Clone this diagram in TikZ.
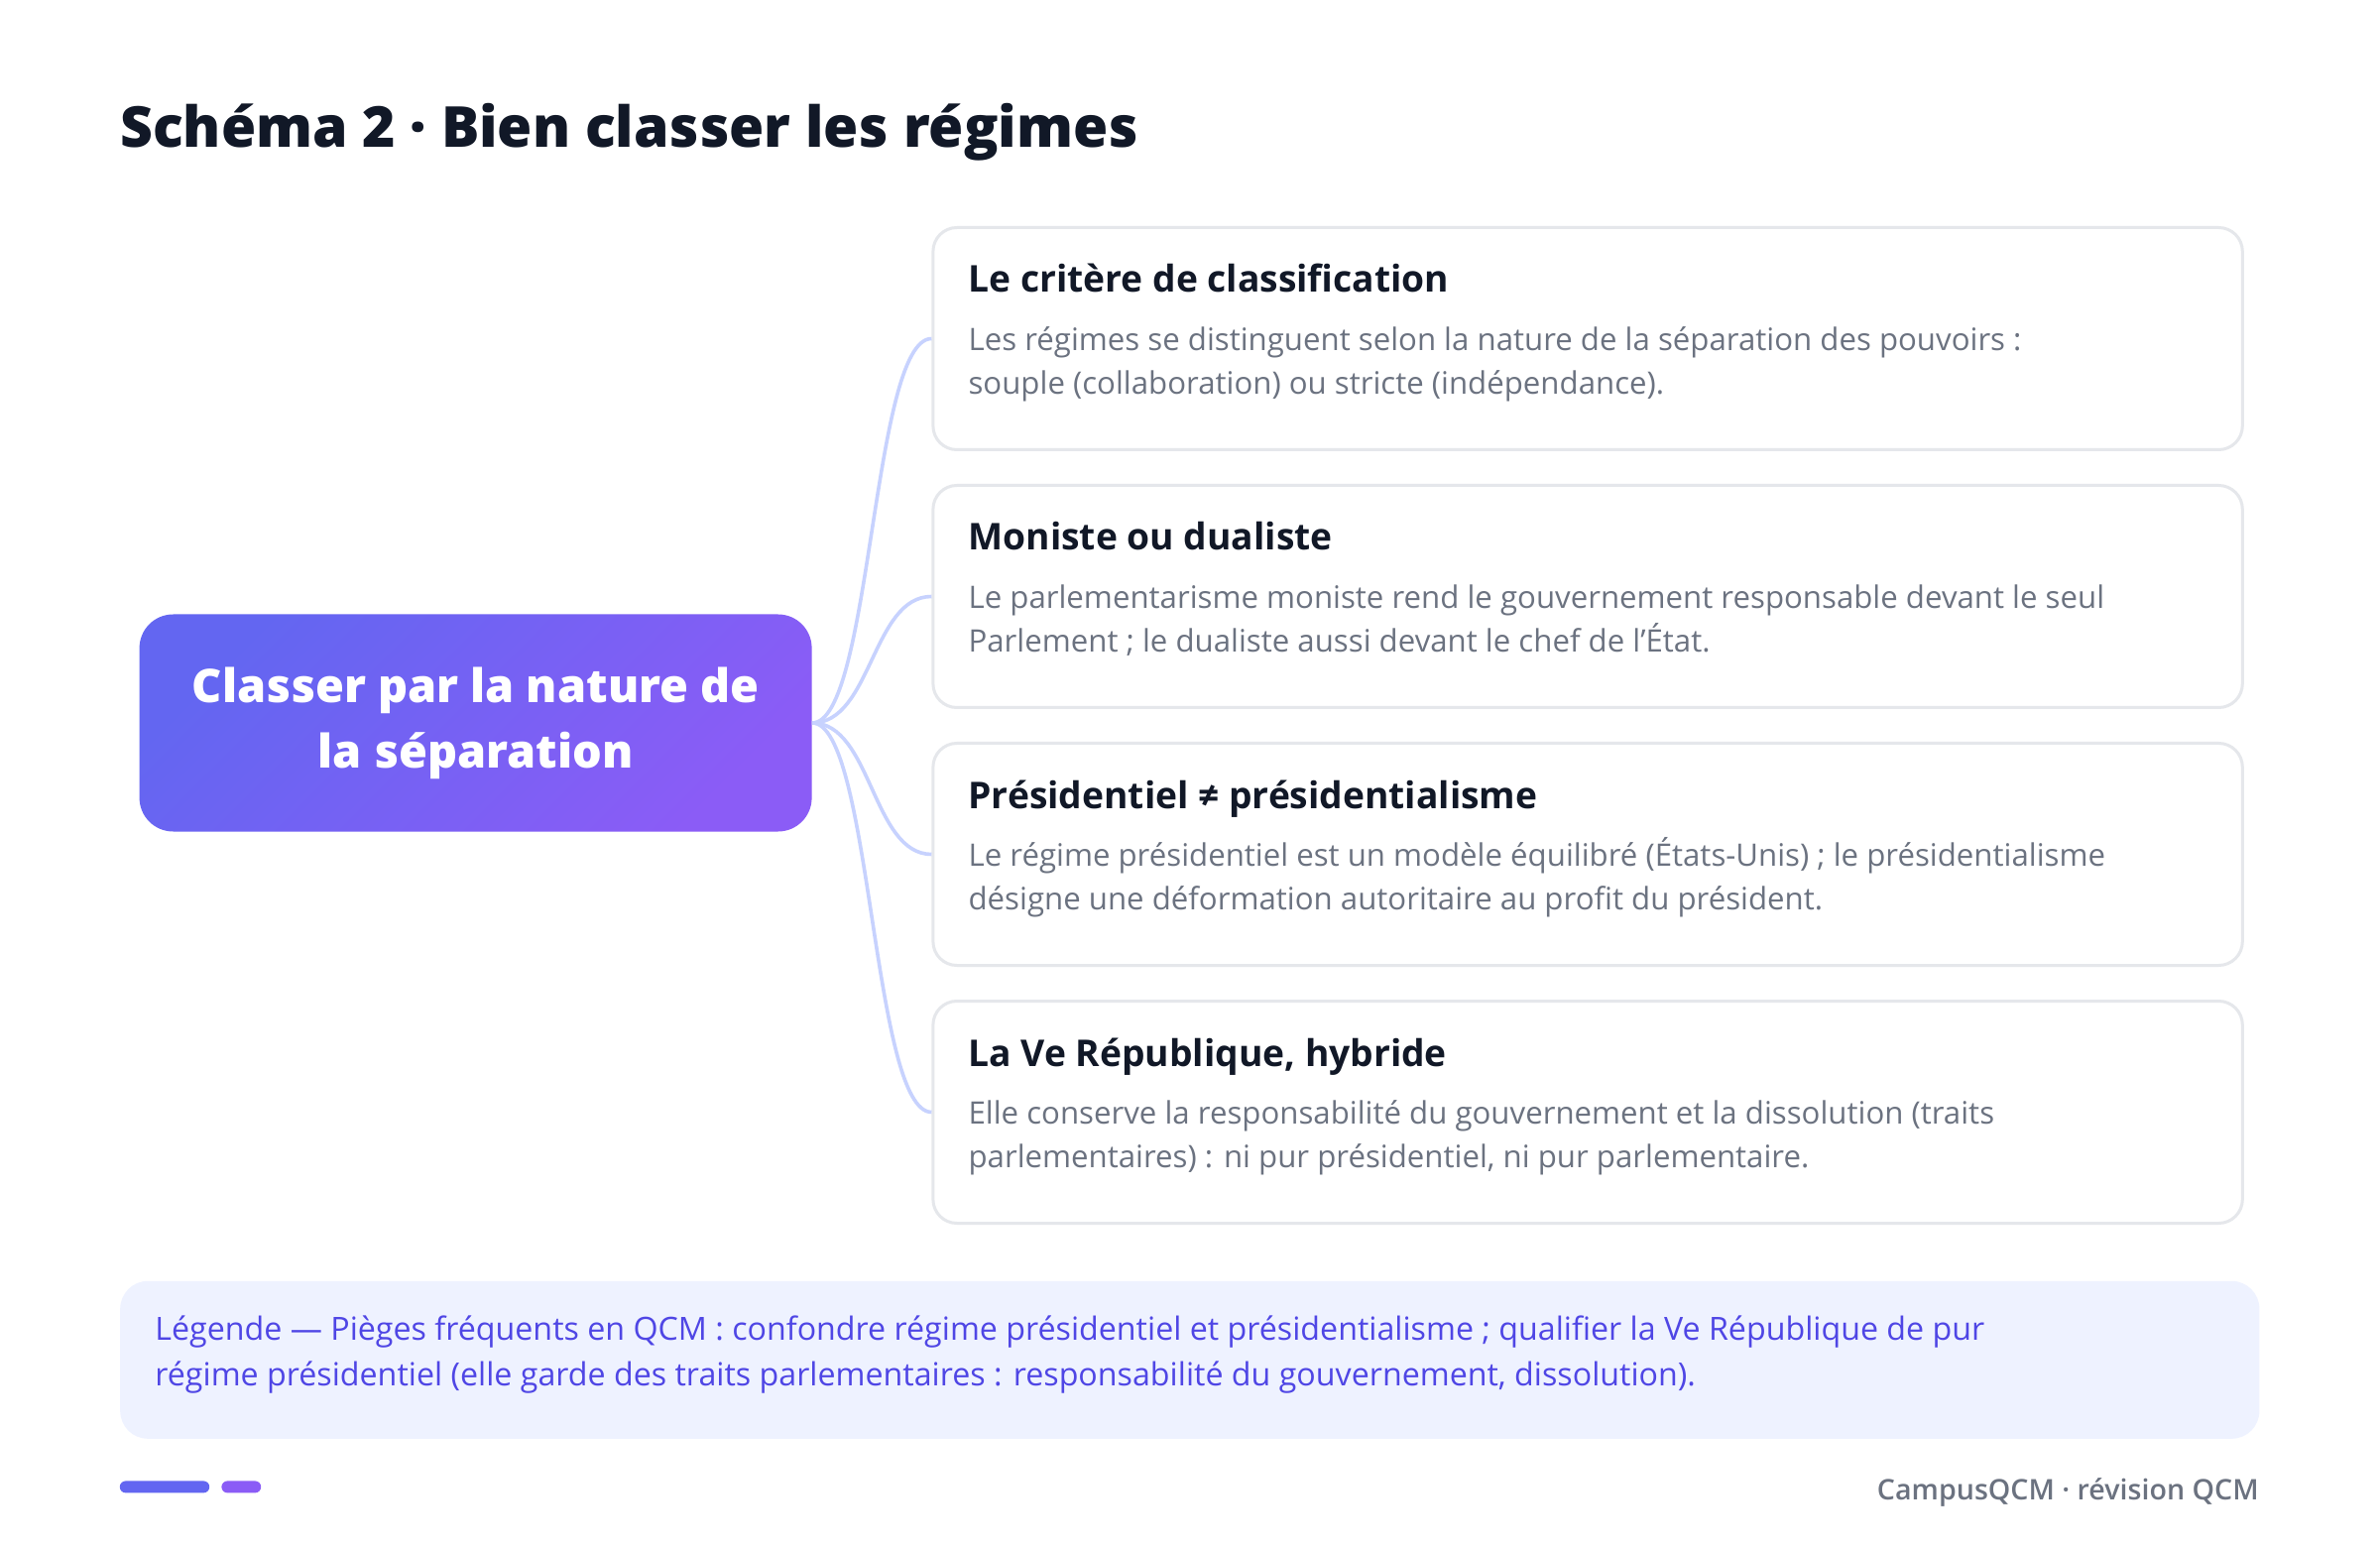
\documentclass[tikz,border=0pt]{standalone}
\usepackage{fontspec}
\setmainfont{Open Sans}
\IfFontExistsTF{Open Sans ExtraBold}{\newfontface\heavyf{Open Sans ExtraBold}}{%
  \IfFontExistsTF{Open Sans Extrabold}{\newfontface\heavyf{Open Sans Extrabold}}{\newcommand\heavyf{\bfseries}}}
\IfFontExistsTF{Open Sans SemiBold}{\newfontface\semif{Open Sans SemiBold}}{%
  \IfFontExistsTF{Open Sans Semibold}{\newfontface\semif{Open Sans Semibold}}{\newcommand\semif{\bfseries}}}
\usetikzlibrary{calc}
\definecolor{ink}{HTML}{111827}
\definecolor{muted}{HTML}{6B7280}
\definecolor{cardline}{HTML}{E5E7EB}
\definecolor{connc}{HTML}{C7D2FE}
\definecolor{indA}{HTML}{6366F1}
\definecolor{vioB}{HTML}{8B5CF6}
\definecolor{legfill}{HTML}{EEF2FF}
\definecolor{legtext}{HTML}{4F46E5}
\begin{document}
\begin{tikzpicture}[x=1pt,y=-1pt,
  cnode/.style={rounded corners=17pt, top color=indA, bottom color=vioB, shading angle=45,
    minimum width=339pt, minimum height=109.5pt, inner sep=0pt, text=white, align=center,
    font=\fontsize{23.4}{33}\selectfont\heavyf},
  card/.style={draw=cardline, line width=1.5pt, rounded corners=12pt, fill=white,
    minimum width=660.2pt, minimum height=112pt, anchor=north west, inner sep=0pt},
  ctitle/.style={anchor=base west, inner sep=0pt, text=ink, font=\fontsize{18.6}{22}\selectfont\bfseries},
  cbody/.style={anchor=base west, inner sep=0pt, text=muted, font=\fontsize{15.6}{22}\selectfont},
  conn/.style={draw=connc, line width=1.8pt},
  legbox/.style={fill=legfill, rounded corners=14pt, minimum width=1078.6pt, minimum height=79.5pt,
    anchor=north west, inner sep=0pt},
  legline/.style={anchor=base west, inner sep=0pt, text=legtext, font=\fontsize{16.1}{22}\selectfont},
]
\useasboundingbox[fill=white] (0,0) rectangle (1200,780.5);

% title
\node[anchor=base west, inner sep=0pt, text=ink, font=\fontsize{28.5}{36}\selectfont\heavyf]
  (title) at (60.4,74.3) {Schéma 2 · Bien classer les régimes};

% central node
\node[cnode] (cn) at (239.8,364.5) {Classer par la nature de\\la séparation};

% cards
\node[card] (c1) at (469.7,114) {};
\node[card] (c2) at (469.7,244) {};
\node[card] (c3) at (469.7,374) {};
\node[card] (c4) at (469.7,504) {};

% connectors
\foreach \c in {c1,c2,c3,c4}{
  \draw[conn] (cn.east) .. controls +(30,0) and +(-30,0) .. (\c.west);
}

% card texts
\node[ctitle] (t1) at (488.1,147.5) {Le critère de classification};
\node[cbody] (b1a) at (488.1,176.8) {Les régimes se distinguent selon la nature de la séparation des pouvoirs :};
\node[cbody] (b1b) at (488.1,198.9) {souple (collaboration) ou stricte (indépendance).};

\node[ctitle] (t2) at (488.1,277.5) {Moniste ou dualiste};
\node[cbody] (b2a) at (488.1,306.8) {Le parlementarisme moniste rend le gouvernement responsable devant le seul};
\node[cbody] (b2b) at (488.1,328.9) {Parlement ; le dualiste aussi devant le chef de l'État.};

\node[ctitle] (t3) at (488.1,407.5) {Présidentiel ≠ présidentialisme};
\node[cbody] (b3a) at (488.1,436.8) {Le régime présidentiel est un modèle équilibré (États-Unis) ; le présidentialisme};
\node[cbody] (b3b) at (488.1,458.9) {désigne une déformation autoritaire au profit du président.};

\node[ctitle] (t4) at (488.1,537.5) {La Ve République, hybride};
\node[cbody] (b4a) at (488.1,566.8) {Elle conserve la responsabilité du gouvernement et la dissolution (traits};
\node[cbody] (b4b) at (488.1,588.9) {parlementaires) : ni pur présidentiel, ni pur parlementaire.};

% legend
\node[legbox] (leg) at (60.4,645.7) {};
\node[legline] (l1) at (78,675.8) {Légende — Pièges fréquents en QCM : confondre régime présidentiel et présidentialisme ; qualifier la Ve République de pur};
\node[legline] (l2) at (78,698.8) {régime présidentiel (elle garde des traits parlementaires : responsabilité du gouvernement, dissolution).};

% footer
\fill[indA, rounded corners=3pt] (60.4,746.7) rectangle (105.6,752.7);
\fill[vioB, rounded corners=3pt] (111.7,746.7) rectangle (131.6,752.7);
\node[anchor=base east, inner sep=0pt, text=muted, font=\fontsize{14.3}{17}\selectfont\semif]
  (foot) at (1139,756) {CampusQCM · révision QCM};
\end{tikzpicture}
\end{document}
